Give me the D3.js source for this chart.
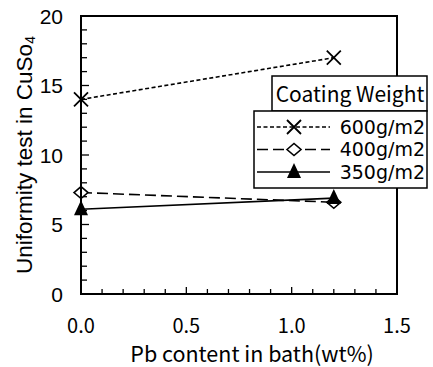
<!DOCTYPE html>
<html>
<head>
<meta charset="utf-8">
<script src="https://cdn.jsdelivr.net/npm/d3@7"></script>
<style>
  body { margin: 0; background: #fff; }
  .ytick { font-family: "Liberation Sans", Arial, sans-serif; font-size: 21px; }
  .xtick { font-family: "Noto Sans CJK JP", sans-serif; font-size: 20px; }
  .xlab { font-family: "Noto Sans CJK JP", sans-serif; font-size: 21.5px; }
  .ylab { font-family: "Liberation Sans", Arial, sans-serif; font-size: 22.5px; }
  .ltitle { font-family: "Noto Sans CJK JP", sans-serif; font-size: 21px; }
  .lent { font-family: "DejaVu Sans", sans-serif; font-size: 19px; }
</style>
</head>
<body>
<div id="root"></div>
<script>
// dados
const pbContent = [0, 1.2];
const w600 = [14, 17];
const w400 = [7.3, 6.6];
const w350 = [6.1, 6.9];
const seriesNames = ['600g/m2', '400g/m2', '350g/m2'];
const xTicks = [0, 0.5, 1.0, 1.5];
const yTicks = [0, 5, 10, 15, 20];

const W = 433, H = 367;
const m = { top: 16, right: 36, bottom: 73, left: 81 };

const svg = d3.select('#root').append('svg').attr('width', W).attr('height', H);

const x = d3.scaleLinear().domain([0, 1.5]).range([m.left, W - m.right]);
const y = d3.scaleLinear().domain([0, 20]).range([H - m.bottom, m.top]);

const series = [
  { name: seriesNames[0], vals: w600, dash: '4,2.5', sym: 'x' },
  { name: seriesNames[1], vals: w400, dash: '11,5', sym: 'diamond' },
  { name: seriesNames[2], vals: w350, dash: null, sym: 'tri' }
];

function marker(g, sym, cx, cy) {
  if (sym === 'x') {
    g.append('path')
      .attr('d', `M${cx-7},${cy-7}L${cx+7},${cy+7}M${cx-7},${cy+7}L${cx+7},${cy-7}`)
      .attr('stroke', '#000').attr('stroke-width', 1.8).attr('fill', 'none');
  } else if (sym === 'diamond') {
    g.append('path')
      .attr('d', `M${cx-7},${cy}L${cx},${cy-6}L${cx+7},${cy}L${cx},${cy+6}Z`)
      .attr('stroke', '#000').attr('stroke-width', 1.6).attr('fill', '#fff');
  } else {
    g.append('path')
      .attr('d', `M${cx},${cy-9}L${cx+7},${cy+6}L${cx-7},${cy+6}Z`)
      .attr('fill', '#000');
  }
}

// ticks menores (dentro)
const plot = svg.append('g');
d3.range(1, 20).forEach(v => {
  plot.append('line').attr('x1', x(0)).attr('x2', x(0) + (v % 5 === 0 ? 8 : 6))
    .attr('y1', y(v)).attr('y2', y(v)).attr('stroke', '#000').attr('stroke-width', 1.3);
});
d3.range(1, 15).forEach(i => {
  const v = i / 10;
  plot.append('line').attr('x1', x(v)).attr('x2', x(v))
    .attr('y1', y(0)).attr('y2', y(0) - (i % 5 === 0 ? 7 : 5)).attr('stroke', '#000').attr('stroke-width', 1.3);
});

// linhas e marcadores
const line = d3.line().x((d, i) => x(pbContent[i])).y(d => y(d));
series.forEach(s => {
  plot.append('path').attr('d', line(s.vals)).attr('fill', 'none')
    .attr('stroke', '#000').attr('stroke-width', 1.6)
    .attr('stroke-dasharray', s.dash);
});
series.forEach(s => {
  s.vals.forEach((v, i) => marker(plot, s.sym, x(pbContent[i]), y(v)));
});

// moldura
svg.append('rect').attr('x', x(0)).attr('y', y(20))
  .attr('width', x(1.5) - x(0)).attr('height', y(0) - y(20))
  .attr('fill', 'none').attr('stroke', '#000').attr('stroke-width', 2);

// rótulos dos eixos
yTicks.forEach(v => {
  svg.append('text').attr('class', 'ytick').attr('x', x(0) - 18).attr('y', y(v))
    .attr('dy', '0.36em').attr('text-anchor', 'end').text(v);
});
xTicks.forEach(v => {
  svg.append('text').attr('class', 'xtick').attr('x', x(v)).attr('y', 333)
    .attr('text-anchor', 'middle').text(d3.format('.1f')(v));
});
svg.append('text').attr('class', 'xlab').attr('x', 252).attr('y', 362)
  .attr('text-anchor', 'middle').text('Pb content in bath(wt%)');

const yl = svg.append('text').attr('class', 'ylab')
  .attr('transform', 'translate(32,155) rotate(-90)')
  .attr('text-anchor', 'middle');
yl.append('tspan').text('Uniformity test in CuSo');
yl.append('tspan').attr('font-size', '14px').attr('dy', 3).text('4');

// legenda
const lg = svg.append('g');
lg.append('rect').attr('x', 272).attr('y', 76).attr('width', 155).attr('height', 35)
  .attr('fill', '#fff').attr('stroke', '#000').attr('stroke-width', 1.5);
lg.append('text').attr('class', 'ltitle').attr('x', 350).attr('y', 102)
  .attr('text-anchor', 'middle').text('Coating Weight');
lg.append('rect').attr('x', 254).attr('y', 111).attr('width', 173).attr('height', 77)
  .attr('fill', '#fff').attr('stroke', '#000').attr('stroke-width', 1.5);
series.forEach((s, i) => {
  const cy = 127 + i * 22.5;
  lg.append('line').attr('x1', 257).attr('x2', 330).attr('y1', cy).attr('y2', cy)
    .attr('stroke', '#000').attr('stroke-width', 1.6).attr('stroke-dasharray', s.dash);
  marker(lg, s.sym, 294, cy);
  lg.append('text').attr('class', 'lent').attr('x', 425).attr('y', cy).attr('dy', '0.36em')
    .attr('text-anchor', 'end').text(s.name);
});
</script>
</body>
</html>
